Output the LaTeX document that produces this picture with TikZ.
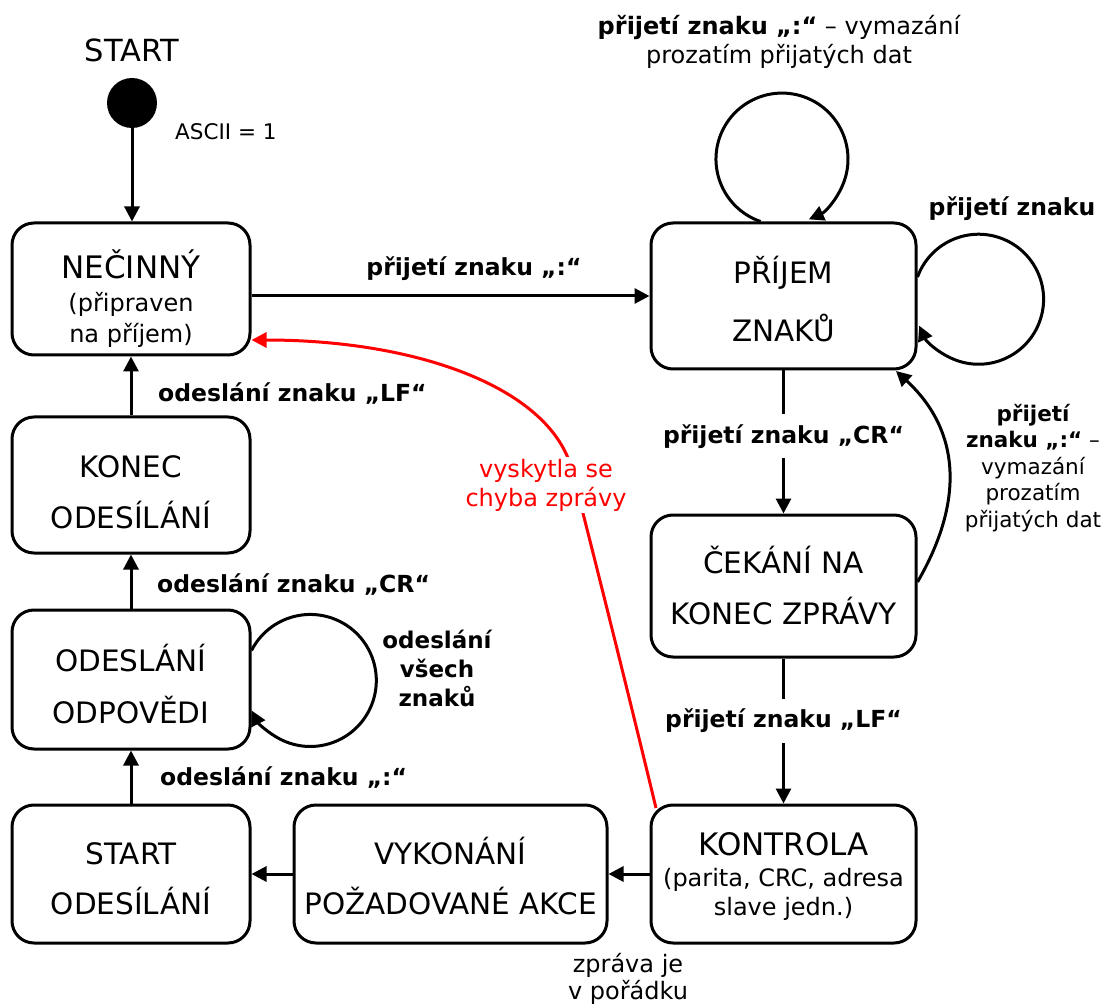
\documentclass[tikz,border=0pt]{standalone}
\usepackage{fontspec}
\setmainfont{DejaVu Sans}
\usetikzlibrary{arrows.meta,calc}
\newcommand\fsz[2]{\fontsize{#1}{#2}\selectfont}

\begin{document}
\begin{tikzpicture}[x=1pt,y=-1pt,
  state/.style={draw, line width=3pt, rounded corners=22pt, fill=white, inner sep=0pt},
  big/.style={font=\fsz{31}{37}, anchor=base, inner sep=0pt},
  mid/.style={font=\fsz{29.5}{35}, anchor=base, inner sep=0pt},
  small/.style={font=\fsz{24}{29}, anchor=base, inner sep=0pt},
  flow/.style={line width=3pt, -{Triangle[length=15pt,width=15pt]}},
  lab/.style={font=\fsz{23.5}{28}\bfseries, inner sep=0pt},
  onarrow/.style={lab, fill=white, inner xsep=0pt, inner ysep=10pt},
  note/.style={font=\fsz{24}{29}, inner sep=0pt, align=center},
]
\fill[white] (0,0) rectangle (1104,1008);
\useasboundingbox (0,0) rectangle (1104,1008);

% states
\node[circle, fill=black, minimum size=50pt, inner sep=0pt] (init) at (132,103) {};
\node[state, minimum width=238pt, minimum height=132pt] (idle)    at (131,289)   {};
\node[state, minimum width=265pt, minimum height=146pt] (recv)    at (783.5,296) {};
\node[state, minimum width=265pt, minimum height=142pt] (wait)    at (783.5,586) {};
\node[state, minimum width=265pt, minimum height=138pt] (check)   at (783.5,874) {};
\node[state, minimum width=313pt, minimum height=138pt] (exec)    at (450.5,874) {};
\node[state, minimum width=238pt, minimum height=138pt] (sstart)  at (131,874)   {};
\node[state, minimum width=238pt, minimum height=139pt] (reply)   at (131,679.5) {};
\node[state, minimum width=238pt, minimum height=136pt] (sendend) at (131,485)   {};

% state texts
\node[font=\fsz{30.5}{36}, anchor=base, inner sep=0pt] (startT) at (132,62) {START};
\node[big]   (idleA) at (131,279) {NEČINNÝ};
\node[small] (idleB) at (131,312) {(připraven};
\node[small] (idleC) at (131,343) {na příjem)};
\node[mid] (recvA) at (783.5,284) {PŘÍJEM};
\node[mid] (recvB) at (783.5,342) {ZNAKŮ};
\node[mid] (waitA) at (783.5,573) {ČEKÁNÍ NA};
\node[mid] (waitB) at (783.5,624) {KONEC ZPRÁVY};
\node[big]   (checkA) at (783.5,855) {KONTROLA};
\node[small] (checkB) at (783.5,886) {(parita, CRC, adresa};
\node[small] (checkC) at (783.5,915) {slave jedn.)};
\node[mid] (execA) at (450.5,864) {VYKONÁNÍ};
\node[mid] (execB) at (450.5,914) {POŽADOVANÉ AKCE};
\node[mid] (sstartA) at (131,864) {START};
\node[mid] (sstartB) at (131,914) {ODESÍLÁNÍ};
\node[mid] (replyA) at (131,671) {ODESLÁNÍ};
\node[mid] (replyB) at (131,723) {ODPOVĚDI};
\node[mid] (sendendA) at (131,478) {KONEC};
\node[mid] (sendendB) at (131,528) {ODESÍLÁNÍ};

% transitions
\draw[flow] (init) -- (init |- idle.north);
\node[font=\fsz{21.5}{26}, anchor=base west, inner sep=0pt] (ascii) at (175,140) {ASCII = 1};

\draw[flow] (idle.east |- recv.west) -- (recv.west);
\node[lab, anchor=base] (lIdleRecv) at (474,276) {přijetí znaku „:“};

\draw[flow] (recv.south) -- node[onarrow, pos=0.46] (lCR) {přijetí znaku „CR“} (wait.north);
\draw[flow] (wait.south) -- node[onarrow, pos=0.43] (lLF) {přijetí znaku „LF“} (check.north);

\draw[flow] (check.west) -- (exec.east);
\draw[flow] (exec.west) -- (sstart.east);
\draw[flow] (sstart.north) -- (reply.south);
\draw[flow] (reply.north) -- (sendend.south);
\draw[flow] (sendend.north) -- (idle.south);

\node[lab, anchor=base west] (lSendColon) at (160,785) {odeslání znaku „:“};
\node[lab, anchor=base west] (lSendCR) at (157,592) {odeslání znaku „CR“};
\node[lab, anchor=base west] (lSendLF) at (158,402) {odeslání znaku „LF“};

% self loops
\draw[flow] ([xshift=-23pt]recv.north) arc[start angle=109, end angle=426, radius=66];
\node[note] (lTop) at (779,42) {{\bfseries přijetí znaku „:“} – vymazání\\prozatím přijatých dat};

\draw[flow] ([yshift=19pt]recv.east) arc[start angle=200, end angle=516, radius=65];
\node[lab, anchor=base] (lRecvAny) at (1012,216) {přijetí znaku};

\draw[flow] ([yshift=29pt]reply.east) arc[start angle=207, end angle=513, radius=66];
\node[lab, align=center, font=\fsz{23}{29}\bfseries] (lAll) at (437,668) {odeslání\\všech\\znaků};

% restart of reception while waiting
\coordinate (recvIn) at (896,371);
\draw[flow] ([yshift=4pt]wait.east) .. controls (965,500) and (960,430) .. (recvIn);
\node[note, font=\fsz{21.5}{26.5}] (lRestart) at (1033,468) {{\bfseries přijetí}\\{\bfseries znaku „:“} –\\vymazání\\prozatím\\přijatých dat};

% error path
\coordinate (errFrom) at (656,808);
\coordinate (errMid) at (572,470);
\draw[flow, red] (errFrom) .. controls (630,700) and (595,560) .. (errMid)
  .. controls (551,389) and (420,340) .. ([yshift=-51pt]idle.east);
\node[note, text=red, fill=white, inner sep=2pt] (lErr) at (546,485) {vyskytla se\\chyba zprávy};

\node[note, font=\fsz{24}{27}] (lOk) at (628,979) {zpráva je\\v pořádku};
\end{tikzpicture}
\end{document}
